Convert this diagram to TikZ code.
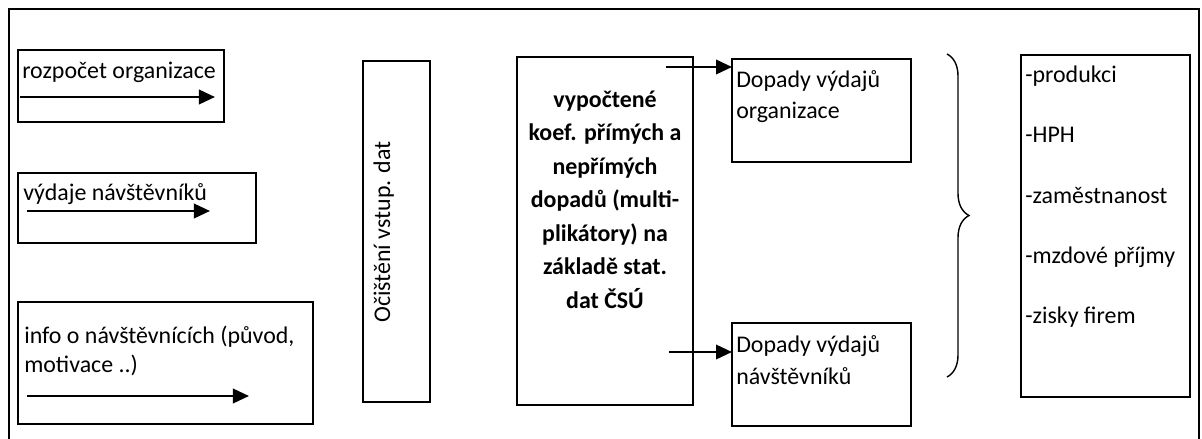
\documentclass[tikz,border=0pt]{standalone}
\usepackage{fontspec}
\setmainfont{Carlito}
\usetikzlibrary{arrows.meta, decorations.pathreplacing}
\tikzstyle{box} = [rectangle, draw, line width=1.8pt, anchor=north west, inner sep=0pt, outer sep=0pt]
\tikzstyle{txt} = [anchor=base west, inner sep=0pt, align=left, font=\fontsize{17}{20}\selectfont]
\tikzstyle{arrow} = [line width=1.7pt, -{Triangle[length=0.4cm, width=0.36cm]}]

\begin{document}
\begin{tikzpicture}[x=0.025cm, y=-0.025cm]
    \useasboundingbox (0,0) rectangle (1202,439);
    \draw [line width=1.9pt] (9,439) -- (9,9) -- (1199,9) -- (1199,439);

    % inputs
    \node [box, minimum width=5.15cm, minimum height=1.8cm] at (18,50) (budget) {};
    \node [box, minimum width=5.95cm, minimum height=1.75cm] at (18,173) (spend) {};
    \node [box, minimum width=7.375cm, minimum height=3.05cm] at (18,302) (info) {};
    \node [txt] at (22,79) (budgettxt) {rozpočet organizace};
    \node [txt] at (23,200) (spendtxt) {výdaje návštěvníků};
    \node [txt, font=\fontsize{17}{20.5}\selectfont] at (24,372) (infotxt) {info o návštěvnících (původ,\\motivace ..)};
    \coordinate (b1) at (20,97);
    \coordinate (b2) at (215,97);
    \coordinate (s1) at (27,211);
    \coordinate (s2) at (210,211);
    \coordinate (i1) at (27,396);
    \coordinate (i2) at (249,396);

    % middle
    \node [box, minimum width=1.675cm, minimum height=8.525cm] at (363,61) (clean) {};
    \node [anchor=base, inner sep=0pt, rotate=90, font=\fontsize{17}{20}\selectfont] at (390,232) (cleantxt) {Očištění vstup. dat};
    \node [box, minimum width=4.4cm, minimum height=8.7cm] at (517,57) (coef) {};
    \node [anchor=base, inner sep=0pt, align=center, font=\fontsize{17}{23.8}\selectfont\bfseries] at (605,308) (coeftxt) {vypočtené\\koef. přímých a\\nepřímých\\dopadů (multi-\\plikátory) na\\základě stat.\\dat ČSÚ};
    \coordinate (c1) at (666,67);
    \coordinate (c2) at (669,352);

    % impacts
    \node [box, minimum width=4.475cm, minimum height=2.575cm] at (732,59) (imporg) {};
    \node [box, minimum width=4.475cm, minimum height=2.575cm] at (732,323) (impvis) {};
    \node [txt, font=\fontsize{17}{22.7}\selectfont] at (736,119) (imporgtxt) {Dopady výdajů\\organizace};
    \node [txt, font=\fontsize{17}{22.7}\selectfont] at (736,384) (impvistxt) {Dopady výdajů\\návštěvníků};

    % results
    \node [box, minimum width=4.225cm, minimum height=8.55cm] at (1021,55) (result) {};
    \node [txt] at (1025,83) (r1) {-produkci};
    \node [txt] at (1025,143) (r2) {-HPH};
    \node [txt] at (1025,203) (r3) {-zaměstnanost};
    \node [txt] at (1025,263) (r4) {-mzdové příjmy};
    \node [txt] at (1025,323) (r5) {-zisky firem};

    \draw [arrow] (b1) -- (b2);
    \draw [arrow] (s1) -- (s2);
    \draw [arrow] (i1) -- (i2);
    \draw [arrow] (c1) -- (c1 -| imporg.west);
    \draw [arrow] (c2) -- (c2 -| impvis.west);
    \draw [line width=1pt, decorate, decoration={brace, amplitude=0.55cm}] (947,54) -- (947,377);
\end{tikzpicture}
\end{document}
